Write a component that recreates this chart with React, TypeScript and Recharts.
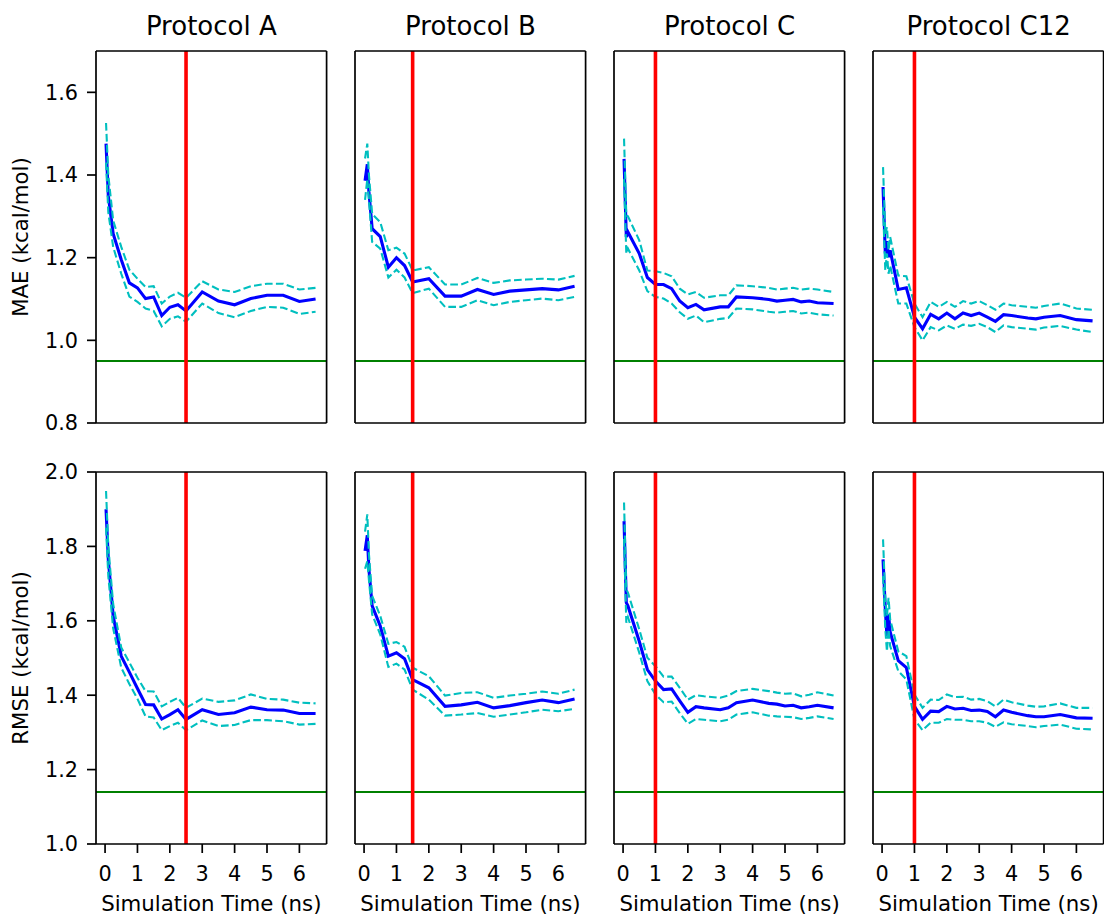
import React from 'react';
import { LineChart, Line, XAxis, YAxis, ReferenceLine } from 'recharts';

// ---- data ----
const protocols = ['Protocol A', 'Protocol B', 'Protocol C', 'Protocol C12'];
const equilibrationTime = [2.5, 1.5, 1.0, 1.0];
const timeTicks = [0, 1, 2, 3, 4, 5, 6];
const maeTicks = [0.8, 1.0, 1.2, 1.4, 1.6];
const rmseTicks = [1.0, 1.2, 1.4, 1.6, 1.8, 2.0];
const maeBaseline = 0.95;
const rmseBaseline = 1.14;

const timeA = [0.03, 0.1, 0.25, 0.5, 0.75, 1.0, 1.25, 1.5, 1.75, 2.0, 2.25, 2.5, 3.0, 3.5, 4.0, 4.5, 5.0, 5.5, 6.0, 6.5];
const maeA = [1.476, 1.35, 1.258, 1.195, 1.139, 1.127, 1.101, 1.105, 1.06, 1.08, 1.086, 1.071, 1.117, 1.095, 1.086, 1.101, 1.109, 1.109, 1.094, 1.1];
const maeAHi = [1.526, 1.4, 1.29, 1.226, 1.171, 1.149, 1.129, 1.131, 1.089, 1.106, 1.115, 1.103, 1.143, 1.123, 1.117, 1.131, 1.137, 1.137, 1.123, 1.127];
const maeALo = [1.43, 1.31, 1.226, 1.161, 1.106, 1.093, 1.077, 1.071, 1.034, 1.052, 1.058, 1.045, 1.089, 1.066, 1.056, 1.071, 1.081, 1.079, 1.064, 1.069];
const rmseA = [1.9, 1.765, 1.613, 1.505, 1.462, 1.418, 1.375, 1.374, 1.336, 1.348, 1.361, 1.335, 1.361, 1.348, 1.353, 1.368, 1.361, 1.36, 1.351, 1.351];
const rmseAHi = [1.949, 1.8, 1.645, 1.528, 1.488, 1.447, 1.411, 1.41, 1.37, 1.382, 1.393, 1.366, 1.391, 1.382, 1.386, 1.402, 1.39, 1.388, 1.38, 1.378];
const rmseALo = [1.85, 1.72, 1.58, 1.474, 1.43, 1.39, 1.343, 1.34, 1.306, 1.317, 1.326, 1.306, 1.332, 1.317, 1.32, 1.333, 1.333, 1.33, 1.321, 1.323];

const timeB = [0.03, 0.1, 0.15, 0.25, 0.5, 0.75, 1.0, 1.25, 1.5, 2.0, 2.5, 3.0, 3.5, 4.0, 4.5, 5.0, 5.5, 6.0, 6.5];
const maeB = [1.386, 1.426, 1.359, 1.27, 1.251, 1.177, 1.2, 1.181, 1.141, 1.149, 1.107, 1.107, 1.123, 1.111, 1.119, 1.122, 1.125, 1.122, 1.131];
const maeBHi = [1.44, 1.476, 1.4, 1.306, 1.286, 1.218, 1.224, 1.21, 1.169, 1.177, 1.135, 1.135, 1.151, 1.139, 1.145, 1.147, 1.149, 1.147, 1.156];
const maeBLo = [1.34, 1.39, 1.339, 1.238, 1.222, 1.152, 1.171, 1.152, 1.114, 1.125, 1.081, 1.081, 1.097, 1.085, 1.093, 1.097, 1.101, 1.097, 1.105];
const rmseB = [1.788, 1.83, 1.738, 1.64, 1.586, 1.505, 1.514, 1.498, 1.442, 1.42, 1.37, 1.374, 1.381, 1.366, 1.372, 1.38, 1.387, 1.38, 1.39];
const rmseBHi = [1.84, 1.886, 1.78, 1.667, 1.613, 1.538, 1.543, 1.53, 1.474, 1.451, 1.399, 1.406, 1.408, 1.393, 1.399, 1.404, 1.41, 1.404, 1.415];
const rmseBLo = [1.74, 1.76, 1.71, 1.617, 1.563, 1.476, 1.485, 1.469, 1.415, 1.388, 1.345, 1.348, 1.352, 1.342, 1.348, 1.354, 1.361, 1.357, 1.363];

const timeC = [0.03, 0.1, 0.15, 0.5, 0.75, 1.0, 1.25, 1.5, 1.75, 2.0, 2.25, 2.5, 3.0, 3.25, 3.5, 4.0, 4.5, 4.75, 5.0, 5.25, 5.5, 5.75, 6.0, 6.5];
const maeC = [1.439, 1.25, 1.262, 1.21, 1.152, 1.135, 1.135, 1.125, 1.095, 1.079, 1.087, 1.074, 1.081, 1.081, 1.105, 1.103, 1.099, 1.095, 1.097, 1.099, 1.093, 1.095, 1.091, 1.089];
const maeCHi = [1.488, 1.302, 1.3, 1.242, 1.169, 1.167, 1.163, 1.155, 1.125, 1.111, 1.117, 1.103, 1.109, 1.109, 1.133, 1.131, 1.127, 1.123, 1.125, 1.127, 1.123, 1.125, 1.123, 1.117];
const maeCLo = [1.39, 1.21, 1.222, 1.169, 1.119, 1.105, 1.101, 1.089, 1.068, 1.052, 1.06, 1.044, 1.052, 1.054, 1.077, 1.075, 1.069, 1.067, 1.069, 1.071, 1.065, 1.067, 1.063, 1.06];
const rmseC = [1.868, 1.649, 1.64, 1.545, 1.469, 1.438, 1.415, 1.417, 1.385, 1.354, 1.369, 1.366, 1.361, 1.366, 1.38, 1.387, 1.378, 1.376, 1.371, 1.373, 1.366, 1.369, 1.373, 1.366];
const rmseCHi = [1.918, 1.685, 1.676, 1.577, 1.501, 1.478, 1.45, 1.45, 1.42, 1.388, 1.4, 1.397, 1.393, 1.399, 1.411, 1.417, 1.411, 1.407, 1.404, 1.405, 1.397, 1.401, 1.408, 1.399];
const rmseCLo = [1.82, 1.595, 1.61, 1.514, 1.438, 1.402, 1.381, 1.383, 1.352, 1.323, 1.336, 1.334, 1.33, 1.334, 1.348, 1.354, 1.345, 1.343, 1.342, 1.341, 1.336, 1.339, 1.343, 1.336];

const timeC12 = [0.03, 0.1, 0.15, 0.2, 0.25, 0.5, 0.75, 1.0, 1.25, 1.5, 1.75, 2.0, 2.25, 2.5, 2.75, 3.0, 3.25, 3.5, 3.75, 4.0, 4.5, 4.75, 5.0, 5.5, 6.0, 6.5];
const maeC12 = [1.371, 1.21, 1.24, 1.201, 1.218, 1.123, 1.127, 1.056, 1.028, 1.063, 1.052, 1.066, 1.052, 1.066, 1.06, 1.066, 1.056, 1.046, 1.062, 1.06, 1.054, 1.052, 1.056, 1.06, 1.05, 1.047];
const maeC12Hi = [1.419, 1.258, 1.274, 1.218, 1.25, 1.157, 1.155, 1.089, 1.056, 1.093, 1.081, 1.093, 1.081, 1.095, 1.089, 1.095, 1.085, 1.074, 1.089, 1.085, 1.081, 1.079, 1.083, 1.089, 1.077, 1.074];
const maeC12Lo = [1.322, 1.169, 1.21, 1.161, 1.181, 1.089, 1.089, 1.032, 1.0, 1.032, 1.024, 1.036, 1.028, 1.038, 1.035, 1.04, 1.032, 1.02, 1.036, 1.032, 1.028, 1.026, 1.031, 1.035, 1.026, 1.02];
const rmseC12 = [1.765, 1.631, 1.559, 1.617, 1.57, 1.493, 1.474, 1.37, 1.335, 1.357, 1.356, 1.37, 1.363, 1.365, 1.359, 1.36, 1.356, 1.342, 1.36, 1.354, 1.345, 1.342, 1.342, 1.348, 1.339, 1.338];
const rmseC12Hi = [1.819, 1.66, 1.613, 1.662, 1.604, 1.518, 1.505, 1.402, 1.366, 1.388, 1.387, 1.402, 1.395, 1.396, 1.388, 1.39, 1.384, 1.37, 1.388, 1.381, 1.372, 1.369, 1.37, 1.378, 1.366, 1.366];
const rmseC12Lo = [1.72, 1.577, 1.518, 1.577, 1.532, 1.465, 1.442, 1.335, 1.306, 1.326, 1.326, 1.336, 1.334, 1.334, 1.33, 1.33, 1.326, 1.315, 1.327, 1.322, 1.317, 1.314, 1.317, 1.321, 1.31, 1.308];

// ---- layout (pixels) ----
const X_MIN = -0.28;
const X_MAX = 6.84;
const PLOT_LEFT = [96, 355.2, 614.3, 873.3];
const PLOT_W = 230.6;
const PLOT_H = 372;
const PLOT_TOP = [51, 472.3];
const PAD = 4;
const PAD_V = 14;
const FONT = "'DejaVu Sans', 'Liberation Sans', sans-serif";
const TICK_FONT = 20.8;
const LABEL_FONT = 21.3;
const TITLE_FONT = 26;

const tickStyle = { fill: '#000', fontSize: TICK_FONT, fontFamily: FONT };
const tickLineStyle = { stroke: '#000', strokeWidth: 1.7 };

const toRows = (time: number[], mean: number[], hi: number[], lo: number[]) =>
  time.map((t, i) => ({ t, mean: mean[i], hi: hi[i], lo: lo[i] }));

const panels = [
  { mae: toRows(timeA, maeA, maeAHi, maeALo), rmse: toRows(timeA, rmseA, rmseAHi, rmseALo) },
  { mae: toRows(timeB, maeB, maeBHi, maeBLo), rmse: toRows(timeB, rmseB, rmseBHi, rmseBLo) },
  { mae: toRows(timeC, maeC, maeCHi, maeCLo), rmse: toRows(timeC, rmseC, rmseCHi, rmseCLo) },
  { mae: toRows(timeC12, maeC12, maeC12Hi, maeC12Lo), rmse: toRows(timeC12, rmseC12, rmseC12Hi, rmseC12Lo) },
];

type PanelProps = { rows: any[]; col: number; row: number };

function Panel({ rows, col, row }: PanelProps) {
  const first = col === 0;
  const bottom = row === 1;
  const yDomain = bottom ? [1.0, 2.0] : [0.8, 1.7];
  const axisH = bottom ? 44 : 0;
  const left = first ? 0 : PLOT_LEFT[col] - PAD;
  const top = PLOT_TOP[row] - PAD_V;
  const width = (first ? PLOT_LEFT[0] : PAD) + PLOT_W + PAD;
  const height = PAD_V + PLOT_H + axisH + (bottom ? 0 : PAD_V);
  const spine = { stroke: '#000', strokeWidth: 1.7, ifOverflow: 'visible' as const };

  return (
    <div style={{ position: 'absolute', left, top }}>
      <LineChart
        width={width}
        height={height}
        data={rows}
        margin={{ top: PAD_V, right: PAD, bottom: bottom ? 0 : PAD_V, left: first ? 0 : PAD }}
      >
        <XAxis
          dataKey="t"
          type="number"
          domain={[X_MIN, X_MAX]}
          ticks={timeTicks}
          interval={0}
          allowDataOverflow
          hide={!bottom}
          height={axisH}
          axisLine={false}
          tickLine={tickLineStyle}
          tickSize={9}
          tickMargin={13}
          tick={tickStyle}
        />
        <YAxis
          type="number"
          domain={yDomain}
          ticks={bottom ? rmseTicks : maeTicks}
          interval={0}
          allowDataOverflow
          hide={!first}
          width={PLOT_LEFT[0]}
          axisLine={false}
          tickLine={tickLineStyle}
          tickSize={9}
          tickMargin={9}
          tick={tickStyle}
          tickFormatter={(v: number) => v.toFixed(1)}
        />
        <Line type="linear" dataKey="mean" stroke="#0000ff" strokeWidth={3.1} dot={false} activeDot={false} isAnimationActive={false} />
        <Line type="linear" dataKey="hi" stroke="#00bfbf" strokeWidth={2.1} strokeDasharray="7.7 3.3" dot={false} activeDot={false} isAnimationActive={false} />
        <Line type="linear" dataKey="lo" stroke="#00bfbf" strokeWidth={2.1} strokeDasharray="7.7 3.3" dot={false} activeDot={false} isAnimationActive={false} />
        <ReferenceLine y={bottom ? rmseBaseline : maeBaseline} stroke="#008000" strokeWidth={2} />
        <ReferenceLine x={equilibrationTime[col]} stroke="#ff0000" strokeWidth={3.6} />
        <ReferenceLine x={X_MIN} {...spine} />
        <ReferenceLine x={X_MAX} {...spine} />
        <ReferenceLine y={yDomain[0]} {...spine} />
        <ReferenceLine y={yDomain[1]} {...spine} />
      </LineChart>
    </div>
  );
}

const textBase: React.CSSProperties = {
  position: 'absolute',
  fontFamily: FONT,
  color: '#000',
  whiteSpace: 'nowrap',
};

export default function App() {
  return (
    <div style={{ position: 'absolute', left: 0, top: 0, width: 1104, height: 915, overflow: 'hidden', background: '#fff' }}>
      {panels.map((p, col) => (
        <React.Fragment key={col}>
          <Panel rows={p.mae} col={col} row={0} />
          <Panel rows={p.rmse} col={col} row={1} />
          <div
            style={{
              ...textBase,
              left: PLOT_LEFT[col] + PLOT_W / 2,
              top: 35 - 0.846 * TITLE_FONT,
              fontSize: TITLE_FONT,
              lineHeight: `${TITLE_FONT}px`,
              transform: 'translateX(-50%)',
            }}
          >
            {protocols[col]}
          </div>
          <div
            style={{
              ...textBase,
              left: PLOT_LEFT[col] + PLOT_W / 2,
              top: 911 - 0.846 * LABEL_FONT,
              fontSize: LABEL_FONT,
              lineHeight: `${LABEL_FONT}px`,
              transform: 'translateX(-50%)',
            }}
          >
            Simulation Time (ns)
          </div>
        </React.Fragment>
      ))}
      {['MAE (kcal/mol)', 'RMSE (kcal/mol)'].map((label, row) => (
        <div
          key={label}
          style={{
            ...textBase,
            left: 21.3,
            top: PLOT_TOP[row] + PLOT_H / 2,
            fontSize: LABEL_FONT,
            lineHeight: `${LABEL_FONT}px`,
            transform: 'translate(-50%, -50%) rotate(-90deg)',
          }}
        >
          {label}
        </div>
      ))}
    </div>
  );
}
